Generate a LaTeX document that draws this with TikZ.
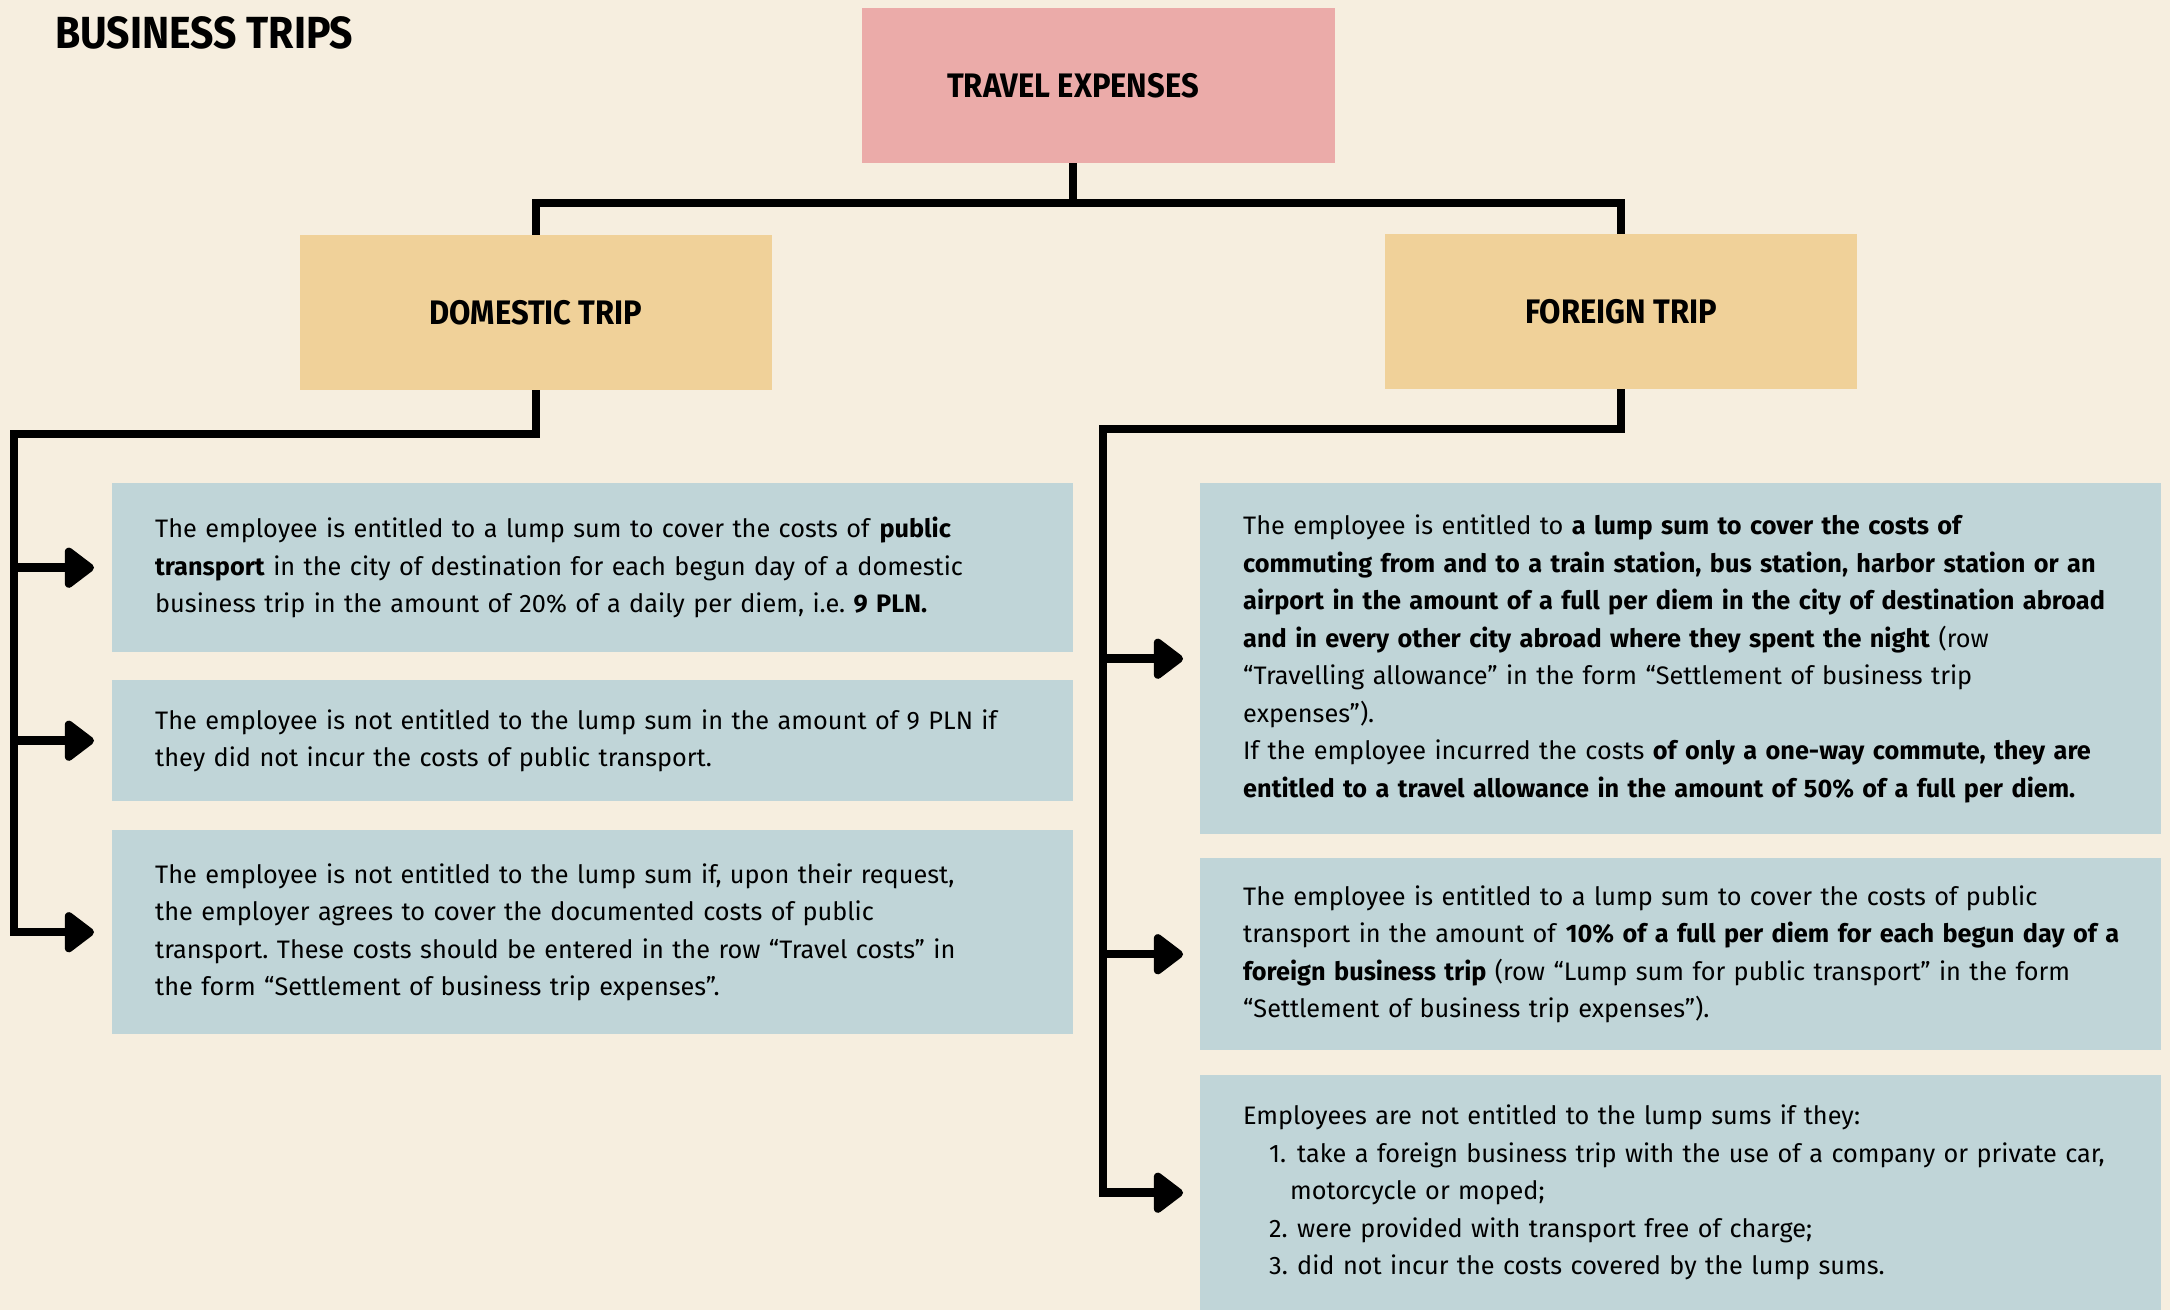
\documentclass[tikz,border=0pt]{standalone}
\usepackage{fontspec}
\setmainfont{Fira Sans}
\newfontfamily\headfont{Fira Sans}[FakeStretch=0.91]
\usetikzlibrary{arrows.meta}
\definecolor{bg}{HTML}{F6EEDF}
\definecolor{pinkbox}{HTML}{EBABA9}
\definecolor{sandbox}{HTML}{F0D199}
\definecolor{bluebox}{HTML}{C0D5D8}
\frenchspacing
\begin{document}
\begin{tikzpicture}[x=1pt,y=-1pt,
  headbox/.style={fill=sandbox, minimum width=472pt, minimum height=155pt, inner sep=0pt,
    font=\headfont\bfseries\fontsize{34}{34}\selectfont},
  tbox/.style={fill=bluebox, anchor=north west, text width=918pt, inner xsep=21.5pt, inner ysep=0pt,
    align=left, font=\fontsize{25.3}{37.5}\selectfont,
    execute at begin node={\leftskip=21.5pt\relax}},
  conn/.style={line width=7.5pt, line join=miter},
  arr/.style={line width=8.5pt, -{Triangle[length=32pt,width=46pt,round]}}
]
\fill[bg] (0,0) rectangle (2170,1310);
\useasboundingbox (0,0) rectangle (2170,1310);

\node[anchor=west, inner sep=0pt, font=\headfont\bfseries\fontsize{45}{45}\selectfont] (title) at (55,33) {BUSINESS TRIPS};

\node[fill=pinkbox, minimum width=473pt, minimum height=155pt, inner sep=0pt,
  font=\headfont\bfseries\fontsize{34}{34}\selectfont] (te) at (1098.5,85.5) {\hspace*{-51pt}TRAVEL EXPENSES};
\node[headbox] (dom) at (536,312.5) {DOMESTIC TRIP};
\node[headbox] (for) at (1621,311.5) {FOREIGN TRIP};

% domestic boxes
\node[tbox, minimum height=169pt] (d1) at (112,483) {The employee is entitled to a lump sum to cover the costs of \textbf{public}\\
\textbf{transport} in the city of destination for each begun day of a domestic\\
business trip in the amount of 20\% of a daily per diem, i.e. \textbf{9 PLN.}};
\node[tbox, minimum height=121pt] (d2) at (112,680) {The employee is not entitled to the lump sum in the amount of 9 PLN if\\
they did not incur the costs of public transport.};
\node[tbox, minimum height=204pt] (d3) at (112,830) {The employee is not entitled to the lump sum if, upon their request,\\
the employer agrees to cover the documented costs of public\\
transport. These costs should be entered in the row “Travel costs” in\\
the form “Settlement of business trip expenses”.};

% foreign boxes
\node[tbox, minimum height=351pt] (f1) at (1200,483) {The employee is entitled to \textbf{a lump sum to cover the costs of}\\
\textbf{commuting from and to a train station, bus station, harbor station or an}\\
\textbf{airport in the amount of a full per diem in the city of destination abroad}\\
\textbf{and in every other city abroad where they spent the night} (row\\
“Travelling allowance” in the form “Settlement of business trip\\
expenses”).\\
If the employee incurred the costs \textbf{of only a one-way commute, they are}\\
\textbf{entitled to a travel allowance in the amount of 50\% of a full per diem.}};
\node[tbox, minimum height=192pt] (f2) at (1200,858) {The employee is entitled to a lump sum to cover the costs of public\\
transport in the amount of \textbf{10\% of a full per diem for each begun day of a}\\
\textbf{foreign business trip} (row “Lump sum for public transport” in the form\\
“Settlement of business trip expenses”).};
\node[tbox, minimum height=235pt] (f3) at (1200,1075) {Employees are not entitled to the lump sums if they:\\
\hspace*{26pt}\makebox[28pt][l]{1.}take a foreign business trip with the use of a company or private car,\\
\hspace*{47pt}motorcycle or moped;\\
\hspace*{26pt}\makebox[28pt][l]{2.}were provided with transport free of charge;\\
\hspace*{26pt}\makebox[28pt][l]{3.}did not incur the costs covered by the lump sums.};

% connectors
\coordinate (tx) at (1073,0);
\coordinate (dx) at (14,0);
\coordinate (fx) at (1103,0);
\draw[conn] (te.south -| tx) -- ++(0,40) coordinate (bus);
\draw[conn] (dom.north) |- (bus) -| (for.north);

\draw[conn] (dom.south) -- ++(0,44) -| (d3.west -| dx) -- ++(3.75,0);
\draw[arr] ([xshift=-3.75pt]d1.west -| dx) -- ([xshift=-18pt]d1.west);
\draw[arr] ([xshift=-3.75pt]d2.west -| dx) -- ([xshift=-18pt]d2.west);
\draw[arr] ([xshift=-3.75pt]d3.west -| dx) -- ([xshift=-18pt]d3.west);

\draw[conn] (for.south) -- ++(0,40) -| (f3.west -| fx) -- ++(3.75,0);
\draw[arr] ([xshift=-3.75pt]f1.west -| fx) -- ([xshift=-17pt]f1.west);
\draw[arr] ([xshift=-3.75pt]f2.west -| fx) -- ([xshift=-17pt]f2.west);
\draw[arr] ([xshift=-3.75pt]f3.west -| fx) -- ([xshift=-17pt]f3.west);
\end{tikzpicture}
\end{document}
